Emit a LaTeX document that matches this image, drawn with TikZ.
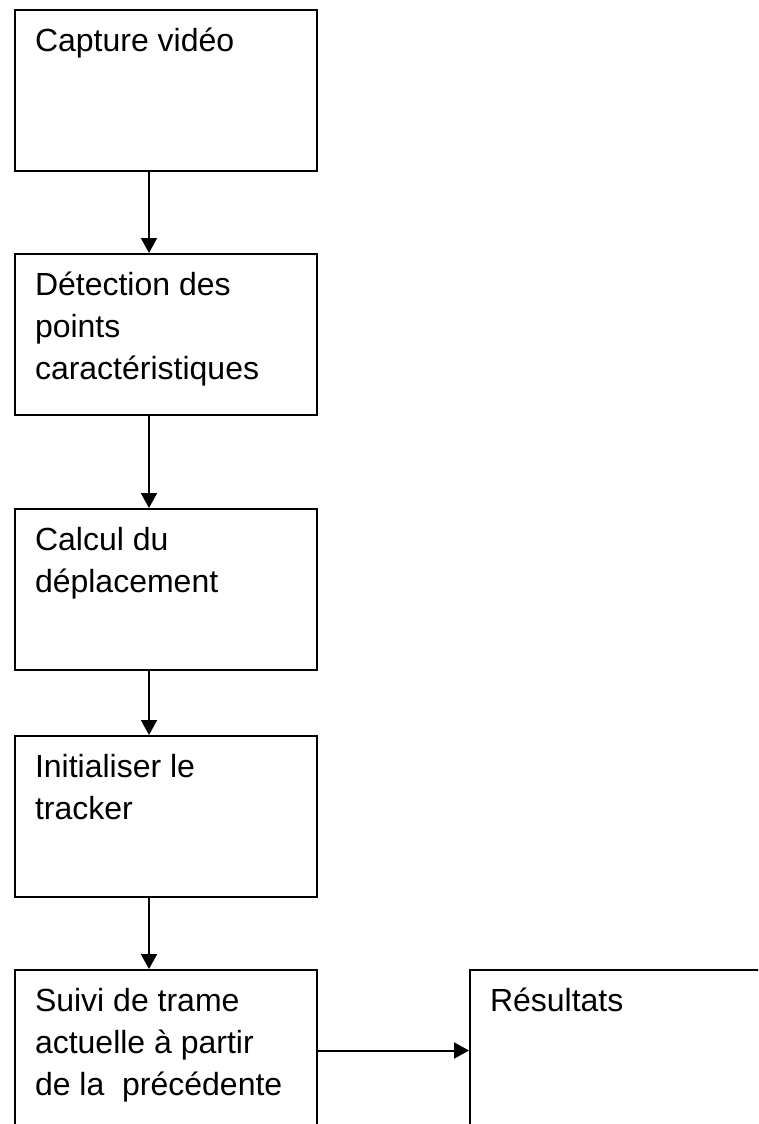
\documentclass[tikz,border=0pt]{standalone}
\usepackage{fontspec}
\setmainfont{Liberation Sans}
\usetikzlibrary{arrows.meta}
\newcommand{\etape}[1]{\parbox[c][161pt][t]{262pt}{\rule{0pt}{41pt}#1}}

\begin{document}
\begin{tikzpicture}[x=1pt,y=1pt,
  boite/.style={draw, line width=2pt, anchor=north west, inner xsep=20pt, inner ysep=0pt, font=\fontsize{32}{42}\selectfont},
  fleche/.style={line width=2pt, -{Triangle[width=16pt,length=15pt]}}]

\clip (0,0) rectangle (758,-1124);

\node[boite] (capture) at (14,-9) {\etape{Capture vidéo}};
\node[boite] (detection) at (14,-253) {\etape{Détection des\\ points\\ caractéristiques}};
\node[boite] (calcul) at (14,-508) {\etape{Calcul du\\ déplacement}};
\node[boite] (tracker) at (14,-735) {\etape{Initialiser le\\ tracker}};
\node[boite] (suivi) at (14,-969) {\etape{Suivi de trame\\ actuelle à partir\\ de la\ \ précédente}};
\node[boite] (resultats) at (469,-969) {\etape{Résultats}};

\draw[fleche] ([xshift=-17pt]capture.south) -- ([xshift=-17pt]detection.north);
\draw[fleche] ([xshift=-17pt]detection.south) -- ([xshift=-17pt]calcul.north);
\draw[fleche] ([xshift=-17pt]calcul.south) -- ([xshift=-17pt]tracker.north);
\draw[fleche] ([xshift=-17pt]tracker.south) -- ([xshift=-17pt]suivi.north);
\draw[fleche] (suivi) -- (resultats);
\end{tikzpicture}
\end{document}
